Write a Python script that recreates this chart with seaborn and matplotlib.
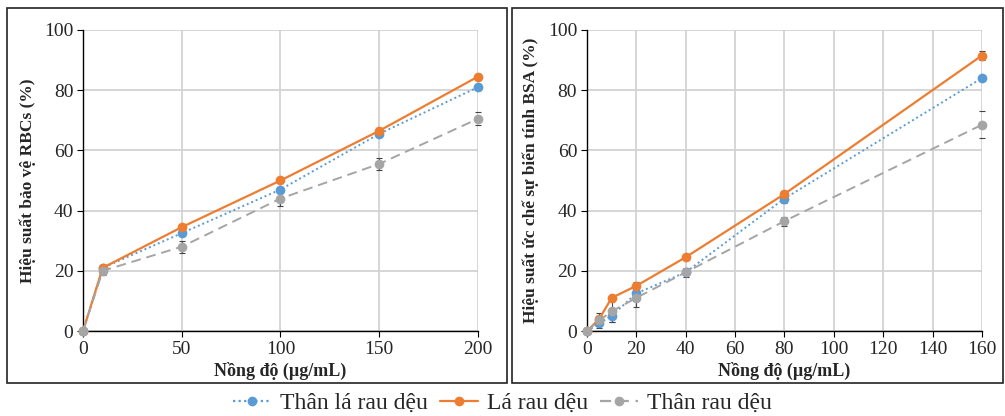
import numpy as np
import pandas as pd
import seaborn as sns
import matplotlib.pyplot as plt
from matplotlib.patches import Rectangle
from matplotlib.lines import Line2D

# left panel: RBC protection
rbc_conc = [0, 10, 50, 100, 150, 200]
rbc_than_la = [0, 21, 32.5, 47, 65.5, 81]
rbc_la = [0, 21, 34.5, 50, 66.5, 84.5]
rbc_than = [0, 20, 28, 44, 55.5, 70.5]
rbc_than_la_err = [0, 1, 1, 1, 1, 1]
rbc_la_err = [0, 1, 0.8, 0.8, 0.8, 0.8]
rbc_than_err = [0, 1.5, 2, 2.5, 2, 2.2]

# right panel: BSA denaturation inhibition
bsa_conc = [0, 5, 10, 20, 40, 80, 160]
bsa_than_la = [0, 2.5, 5, 12.5, 19.5, 44, 84]
bsa_la = [0, 4, 11, 15, 24.5, 45.5, 91.5]
bsa_than = [0, 3.5, 6.5, 11, 19.5, 36.5, 68.5]
bsa_than_la_err = [0, 1, 2, 1, 1, 1.5, 0.8]
bsa_la_err = [0, 1, 1, 1.2, 0.8, 1, 1.5]
bsa_than_err = [0, 2.5, 3.5, 3, 1.5, 1.5, 4.5]

series = ['Thân lá rau dệu', 'Lá rau dệu', 'Thân rau dệu']
colors = ['#5B9BD5', '#ED7D31', '#A5A5A5']
styles = [(0, (1, 1.5)), '-', (0, (5, 3))]

sns.set_style('whitegrid')
plt.rcParams['font.family'] = ['Liberation Serif', 'DejaVu Serif']

fig = plt.figure(figsize=(10.05, 4.16), dpi=100)
ax1 = fig.add_axes([0.0826, 0.2043, 0.393, 0.7237])
ax2 = fig.add_axes([0.584, 0.2043, 0.393, 0.7237])

# panel borders
for x0, x1 in [(7, 507), (512, 1003)]:
    fig.patches.append(Rectangle((x0 / 1005, 1 - 383 / 416), (x1 - x0) / 1005, 375 / 416,
                                 transform=fig.transFigure, fill=False,
                                 edgecolor='#222222', linewidth=1.2))


def draw(ax, conc, ys, errs, xticks, xmax, ylabel):
    for name, y, e, c, ls in zip(series, ys, errs, colors, styles):
        ax.errorbar(conc, y, yerr=e, fmt='none', ecolor='#444444',
                    elinewidth=0.8, capsize=2.5, capthick=0.8, zorder=2)
        df = pd.DataFrame({'x': conc, 'y': y})
        sns.lineplot(data=df, x='x', y='y', ax=ax, color=c, linestyle=ls,
                     linewidth=1.6 if ls == '-' else 1.4, marker='o',
                     markersize=7, markeredgewidth=0, label=name, legend=False,
                     zorder=3)
    ax.set_xlim(0, xmax)
    ax.set_ylim(0, 100)
    ax.set_xticks(xticks)
    ax.set_yticks([0, 20, 40, 60, 80, 100])
    ax.grid(True, color='#d0d0d0', linewidth=1.2)
    for s in ['top', 'right']:
        ax.spines[s].set_visible(False)
    for s in ['left', 'bottom']:
        ax.spines[s].set_color('black')
        ax.spines[s].set_linewidth(1.0)
    ax.tick_params(axis='both', labelsize=14, length=4, color='black',
                   left=True, bottom=True, pad=3)
    ax.set_xlabel('Nồng độ (µg/mL)', fontsize=13, fontweight='bold', labelpad=3)
    ax.set_ylabel(ylabel, fontsize=12.5, fontweight='bold', labelpad=6)
    for ln in ax.lines:
        ln.set_clip_on(False)


draw(ax1, rbc_conc, [rbc_than_la, rbc_la, rbc_than],
     [rbc_than_la_err, rbc_la_err, rbc_than_err],
     [0, 50, 100, 150, 200], 200, 'Hiệu suất bảo vệ RBCs (%)')
draw(ax2, bsa_conc, [bsa_than_la, bsa_la, bsa_than],
     [bsa_than_la_err, bsa_la_err, bsa_than_err],
     list(range(0, 161, 20)), 160, 'Hiệu suất ức chế sự biến tính BSA (%)')

handles = [Line2D([], [], color=c, linestyle=ls, linewidth=1.6, marker='o',
                  markersize=7, markeredgewidth=0)
           for c, ls in zip(colors, styles)]
fig.legend(handles, series, loc='center', bbox_to_anchor=(0.5, 0.031), ncol=3,
           frameon=False, fontsize=17, handlelength=1.6, columnspacing=0.5,
           handletextpad=0.4)

fig.savefig('out.png', dpi=100)
